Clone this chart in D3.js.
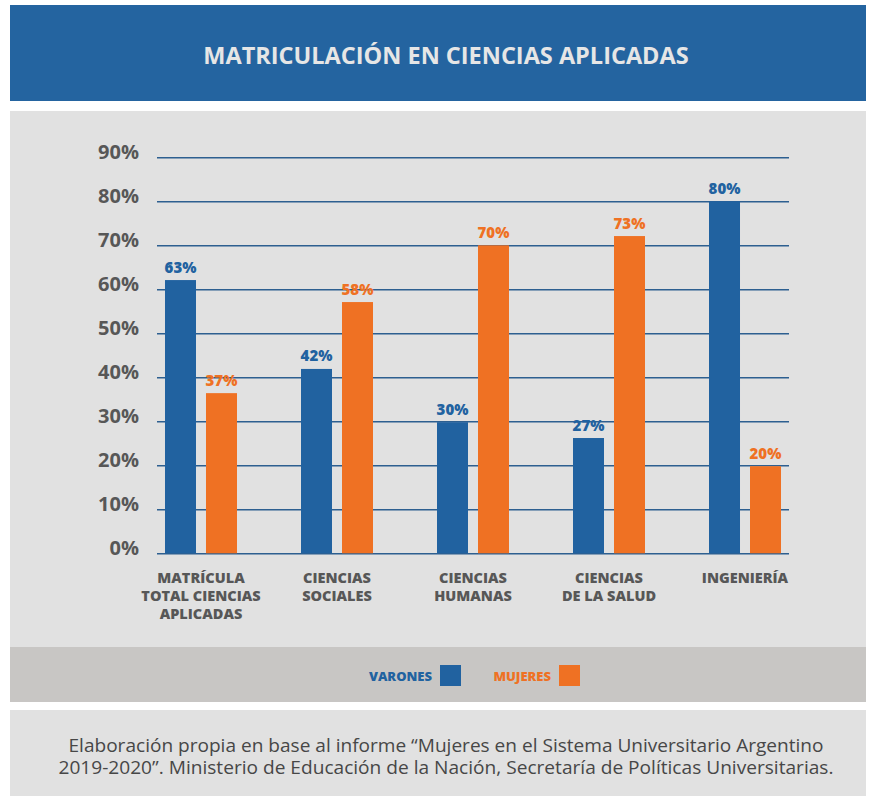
<!DOCTYPE html>
<html>
<head>
<meta charset="utf-8">
<script src="https://cdn.jsdelivr.net/npm/d3@7"></script>
<style>
  body { margin: 0; background: #fff; }
  svg { display: block; font-family: "Open Sans", sans-serif; }
</style>
</head>
<body>
<script>
// Data
const categories = [
  ["MATRÍCULA", "TOTAL CIENCIAS", "APLICADAS"],
  ["CIENCIAS", "SOCIALES"],
  ["CIENCIAS", "HUMANAS"],
  ["CIENCIAS", "DE LA SALUD"],
  ["INGENIERÍA"]
];
const series = ["VARONES", "MUJERES"];
const varones = [62.1, 41.9, 29.8, 26.2, 80];       // bar heights
const mujeres = [36.4, 57.1, 70, 72.1, 19.8];
const varonesLabels = ["63%", "42%", "30%", "27%", "80%"];
const mujeresLabels = ["37%", "58%", "70%", "73%", "20%"];
const yTicks = [0, 10, 20, 30, 40, 50, 60, 70, 80, 90];
const title = "MATRICULACIÓN EN CIENCIAS APLICADAS";
const source = [
  "Elaboración propia en base al informe “Mujeres en el Sistema Universitario Argentino",
  "2019-2020”. Ministerio de Educación de la Nación, Secretaría de Políticas Universitarias."
];

const width = 871, height = 798;
const blue = "#2162a0", orange = "#ef7123", grey = "#575757";
const colors = [blue, orange];

const svg = d3.select("body").append("svg")
    .attr("width", width)
    .attr("height", height);

// Panels
svg.append("rect").attr("x", 10).attr("y", 5).attr("width", 856).attr("height", 96).attr("fill", "#2464a0");
svg.append("rect").attr("x", 10).attr("y", 111).attr("width", 856).attr("height", 536).attr("fill", "#e1e1e1");
svg.append("rect").attr("x", 10).attr("y", 647).attr("width", 856).attr("height", 55).attr("fill", "#c8c6c4");
svg.append("rect").attr("x", 10).attr("y", 710).attr("width", 856).attr("height", 86).attr("fill", "#e1e1e1");

svg.append("text")
    .attr("x", 446).attr("y", 64)
    .attr("text-anchor", "middle")
    .attr("fill", "#e6e6e6")
    .attr("font-size", 23.5).attr("font-weight", 700)
    .text(title);

// Scales
const x0 = d3.scaleBand()
    .domain(d3.range(categories.length))
    .range([157, 789])
    .paddingInner(0.4706)
    .paddingOuter(0.0588);

const x1 = d3.scaleBand()
    .domain(series)
    .range([0, x0.bandwidth()])
    .paddingInner(10 / 41);

const y = d3.scaleLinear()
    .domain([0, 90])
    .range([553.3, 157.3]);

// Axis with gridlines
const yAxis = svg.append("g")
    .attr("transform", "translate(157,0)")
    .call(d3.axisLeft(y)
        .tickValues(yTicks)
        .tickSize(-(789 - 157))
        .tickPadding(18)
        .tickFormat(d => d + "%"));

yAxis.select(".domain").remove();
yAxis.selectAll(".tick line")
    .attr("stroke", "#2d5f90")
    .attr("stroke-width", 1.4);
yAxis.selectAll(".tick text")
    .attr("dy", 1)
    .attr("fill", grey)
    .attr("font-size", 20)
    .attr("font-weight", 700)
    .attr("font-family", "Open Sans, sans-serif");

// Bars
const rows = categories.map((c, i) => ({
  i,
  values: [
    { key: series[0], value: varones[i], label: varonesLabels[i] },
    { key: series[1], value: mujeres[i], label: mujeresLabels[i] }
  ]
}));

const group = svg.append("g")
  .selectAll("g")
  .data(rows)
  .join("g")
    .attr("transform", d => `translate(${x0(d.i)},0)`);

group.selectAll("rect")
  .data(d => d.values)
  .join("rect")
    .attr("x", d => x1(d.key))
    .attr("y", d => y(d.value))
    .attr("width", x1.bandwidth())
    .attr("height", d => y(0) - y(d.value))
    .attr("fill", (d, i) => colors[i]);

group.selectAll("text.val")
  .data(d => d.values)
  .join("text")
    .attr("class", "val")
    .attr("x", d => x1(d.key) + x1.bandwidth() / 2)
    .attr("y", d => y(d.value) - 7.5)
    .attr("text-anchor", "middle")
    .attr("font-size", 15)
    .attr("font-weight", 800)
    .attr("fill", (d, i) => colors[i])
    .text(d => d.label);

// Category labels
svg.append("g")
  .selectAll("text")
  .data(categories)
  .join("text")
    .attr("x", (d, i) => x0(i) + x0.bandwidth() / 2)
    .attr("y", 583)
    .attr("text-anchor", "middle")
    .attr("font-size", 14.5)
    .attr("font-weight", 800)
    .attr("fill", grey)
  .selectAll("tspan")
  .data(d => d)
  .join("tspan")
    .attr("x", function () { return this.parentNode.getAttribute("x"); })
    .attr("dy", (d, i) => i === 0 ? 0 : 18)
    .text(d => d);

// Legend
const legendItems = [
  { name: series[0], color: blue, tx: 432, sx: 440 },
  { name: series[1], color: orange, tx: 551, sx: 559 }
];
const legend = svg.append("g")
  .selectAll("g")
  .data(legendItems)
  .join("g");
legend.append("text")
    .attr("x", d => d.tx)
    .attr("y", 681)
    .attr("text-anchor", "end")
    .attr("font-size", 13)
    .attr("font-weight", 800)
    .attr("fill", d => d.color)
    .text(d => d.name);
legend.append("rect")
    .attr("x", d => d.sx)
    .attr("y", 665)
    .attr("width", 21)
    .attr("height", 21)
    .attr("fill", d => d.color);

// Source note
svg.append("g")
  .selectAll("text")
  .data(source)
  .join("text")
    .attr("x", 446)
    .attr("y", (d, i) => 752 + i * 22)
    .attr("text-anchor", "middle")
    .attr("font-size", 18)
    .attr("fill", "#474747")
    .attr("textLength", (d, i) => i === 0 ? 755 : 775)
    .attr("lengthAdjust", "spacingAndGlyphs")
    .text(d => d);
</script>
</body>
</html>
